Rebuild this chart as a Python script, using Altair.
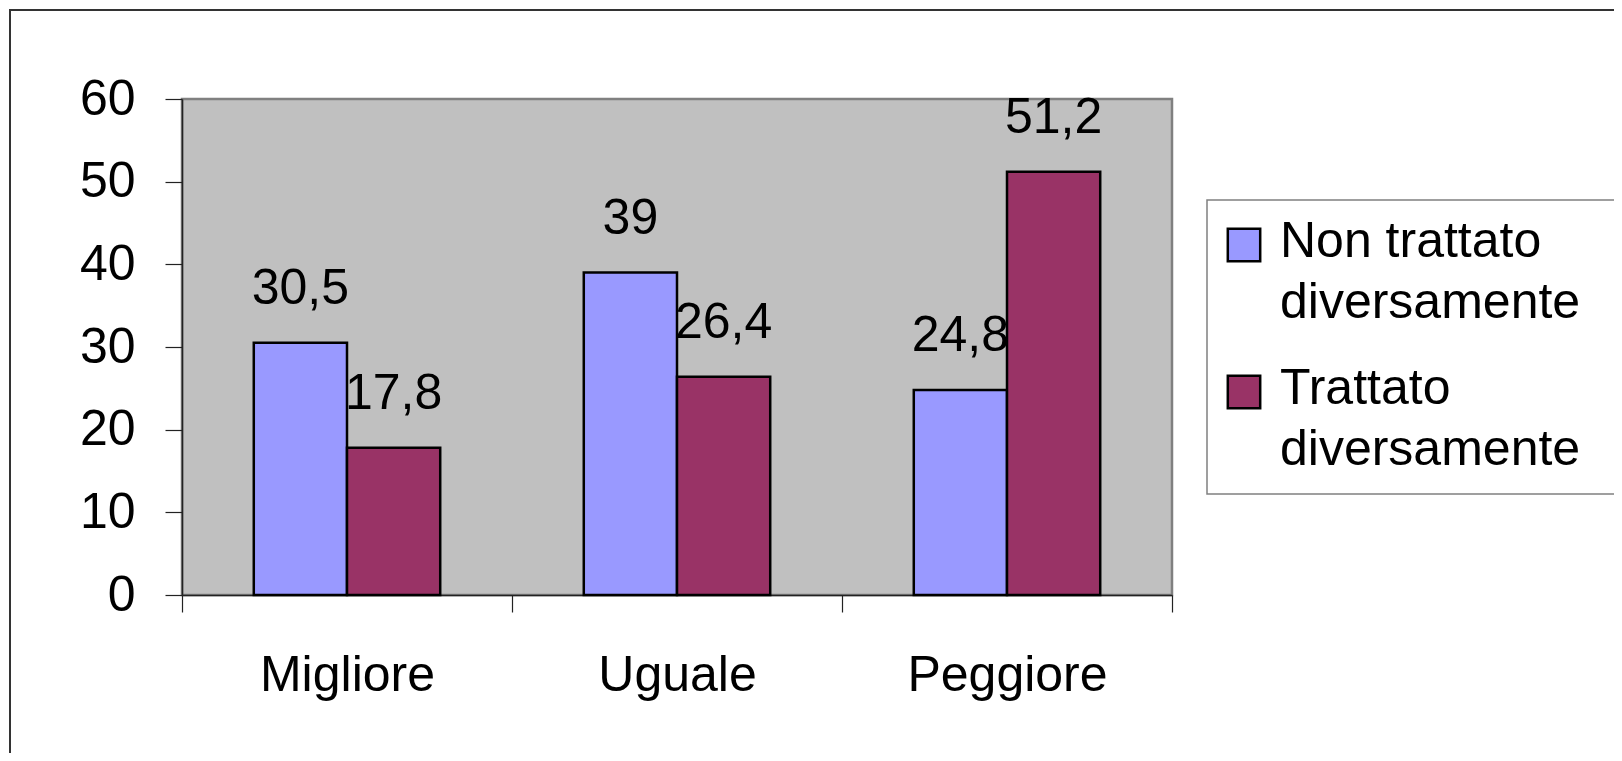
import altair as alt
import pandas as pd

categories = ["Migliore", "Uguale", "Peggiore"]
series = ["Non trattato diversamente", "Trattato diversamente"]
non_trattato = [30.5, 39, 24.8]
trattato = [17.8, 26.4, 51.2]
y_ticks = [0, 10, 20, 30, 40, 50, 60]
colors = ["#9999FF", "#993366"]

rows = []
for c, a, b in zip(categories, non_trattato, trattato):
    for s, v in zip(series, (a, b)):
        rows.append({"cat": c, "serie": s, "val": v,
                     "lab": f"{v:g}".replace(".", ",")})
df = pd.DataFrame(rows)

FONT = "Liberation Sans"
W, H = 990, 496
DY = 12  # vertical shift of guide labels (legend text below symbol centre)

x = alt.X("cat:N", sort=categories,
          scale=alt.Scale(paddingInner=0, paddingOuter=0),
          axis=alt.Axis(title=None, labelAngle=0, tickBand="extent", labelLimit=0,
                        labelFont=FONT, labelFontSize=50, labelColor="black",
                        labelBaseline="alphabetic", labelPadding=78 - DY,
                        tickSize=17, tickColor="#222", tickWidth=1.2,
                        domainColor="#222", domainWidth=1.5))
xo = alt.XOffset("serie:N", sort=series,
                 scale=alt.Scale(paddingInner=0, paddingOuter=0.77))
y = alt.Y("val:Q", scale=alt.Scale(domain=[0, 60], nice=False),
          axis=alt.Axis(title=None, values=y_ticks, grid=False,
                        labelFont=FONT, labelFontSize=50, labelColor="black",
                        labelOffset=-DY,
                        labelPadding=30, tickSize=17, tickColor="#222",
                        tickWidth=1.2, domainColor="#222", domainWidth=1.5))
color = alt.Color("serie:N", sort=series,
                  scale=alt.Scale(domain=series, range=colors),
                  legend=alt.Legend(
                      title=None, orient="none", legendX=1025, legendY=101,
                      symbolType="square", symbolSize=1050,
                      symbolStrokeColor="black", symbolStrokeWidth=2.5,
                      symbolOpacity=1, symbolOffset=-8,
                      labelFont=FONT, labelFontSize=50, labelColor="black",
                      labelLimit=0, labelBaseline="alphabetic", labelOffset=11,
                      labelExpr="split(replace(datum.label, ' diversamente', '|diversamente'), '|')",
                      rowPadding=36, padding=20))

frame = alt.Chart(pd.DataFrame({"k": [0]})).mark_rect(
    fill=None, stroke="#333", strokeWidth=2
).encode(x=alt.value(-172), x2=alt.value(1500),
         y=alt.value(-89), y2=alt.value(800))

# legend box (runs off the right edge of the picture, as in the original)
legend_box = alt.Chart(pd.DataFrame({"k": [0]})).mark_rect(
    fill="white", stroke="#808080", strokeWidth=1.5
).encode(x=alt.value(1025), x2=alt.value(1500),
         y=alt.value(101), y2=alt.value(395))

bars = alt.Chart(df).mark_bar(stroke="black", strokeWidth=2.5).encode(
    x=x, xOffset=xo, y=y, color=color)

labels = alt.Chart(df).mark_text(
    font=FONT, fontSize=50, color="black", baseline="alphabetic", dy=-39
).encode(x=alt.X("cat:N", sort=categories), xOffset=alt.XOffset("serie:N", sort=series),
         y="val:Q", text="lab:N")

chart = alt.layer(frame, legend_box, bars, labels).properties(
    width=W, height=H,
    autosize=alt.AutoSizeParams(type="none"),
    padding={"left": 174, "top": 91, "right": 442, "bottom": 158},
    background="white",
).configure(
    style={"guide-label": {"lineHeight": 61, "dy": DY}}
).configure_view(
    fill="#C0C0C0", stroke="#808080", strokeWidth=2.5
)

chart.save("out.html", embed_options={"renderer": "svg", "actions": False})
